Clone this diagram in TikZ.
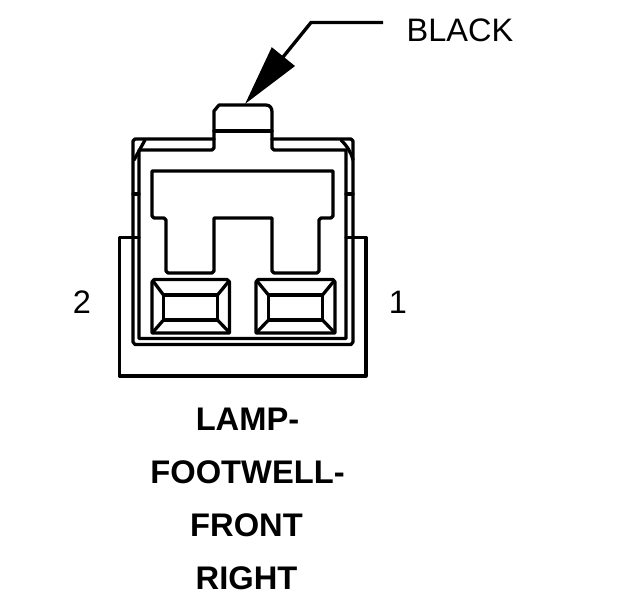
\documentclass[tikz,border=0pt]{standalone}
\usepackage{fontspec}
\setmainfont{Liberation Sans}
\usetikzlibrary{arrows.meta,positioning}
\tikzset{
  housing/.style={line width=1.85pt,line join=round,line cap=round},
  tag/.style={inner sep=0pt,font=\fontsize{18.5pt}{20pt}\selectfont},
  title/.style={tag,font=\fontsize{18.6pt}{20pt}\selectfont\bfseries},
}

\begin{document}
\begin{tikzpicture}[x=0.02cm,y=-0.02cm]
      \useasboundingbox (0, 0) rectangle (624, 600);

      % Outer shroud
      \draw[housing] (139, 237.5) -- (119.5, 237.5) -- (119.5, 376) -- (366, 376) -- (366, 237.5) -- (346, 237.5);

      % Housing > outer outline
      \draw[housing] (214, 139) -- (135, 139) -- (133, 141) -- (133, 342) -- (135, 344.5)
        -- (351, 344.5) -- (353, 342) -- (353, 141) -- (351, 139) -- (272, 139);

      % Housing > inner outline
      \draw[housing] (214, 139) -- (214, 148) -- (212, 150) -- (139, 150) -- (139, 338.5)
        -- (346, 338.5) -- (346, 150) -- (274, 150) -- (272, 148) -- (272, 139);

      % Tab on top
      \draw[housing] (214, 139) -- (214, 111) -- (219, 105) -- (266, 105)
        .. controls (270, 105) and (272, 108) .. (272, 112) -- (272, 139);
      \draw[housing] (214, 131) -- (272, 131);

      % Corner bevels
      \draw[housing] (145, 140) -- (134, 160);
      \draw[housing] (341, 140) .. controls (347, 146) and (351, 152) .. (353, 160);

      % Side ticks
      \draw[housing] (133, 194) -- (139, 194);
      \draw[housing] (346, 194) -- (353, 194);

      % Latch
      \draw[housing] (152, 171) -- (333, 171) -- (333, 216) -- (331, 218) -- (321, 218) -- (319, 220)
        -- (319, 271) -- (317, 273) -- (274, 273) -- (272, 271) -- (272, 218) -- (214, 218)
        -- (214, 271) -- (212, 273) -- (168, 273) -- (166, 271) -- (166, 220) -- (164, 218)
        -- (154, 218) -- (152, 216) -- cycle;

      % Left terminal
      \draw[housing] (154, 279.5) -- (227, 279.5) -- (229.5, 282) -- (229.5, 333) -- (152, 333) -- (152, 282) -- cycle;
      \draw[housing] (163.5, 295) rectangle (217.5, 320);
      \draw[housing] (153, 281) -- (163.5, 295);
      \draw[housing] (229, 281) -- (217.5, 295);
      \draw[housing] (153, 332) -- (163.5, 320);
      \draw[housing] (229, 332) -- (217.5, 320);

      % Right terminal
      \draw[housing] (258, 279.5) -- (333, 279.5) -- (335, 282) -- (335, 333) -- (256, 333) -- (256, 282) -- cycle;
      \draw[housing] (268.5, 295) rectangle (322.5, 320);
      \draw[housing] (257, 281) -- (268.5, 295);
      \draw[housing] (334, 281) -- (322.5, 295);
      \draw[housing] (257, 332) -- (268.5, 320);
      \draw[housing] (334, 332) -- (322.5, 320);

      % Colour leader
      \coordinate (leaderend) at (383, 22.5);
      \coordinate (leaderbend) at (311, 22.5);
      \coordinate (leadertip) at (245, 104);
      \draw[line width=1.9pt,-{Triangle[length=1.22cm,width=0.58cm]}] (leaderend) -- (leaderbend) -- (leadertip);

      \node[tag] (colour) at (460, 30) {BLACK};
      \node[tag] (pintwo) at (82, 302) {2};
      \node[tag] (pinone) at (398, 302) {1};

      \node[title] (lamp) at (247.5, 419) {LAMP-};
      \node[title] (footwell) at (247.5, 472) {FOOTWELL-};
      \node[title] (front) at (246.5, 525) {FRONT};
      \node[title] (right) at (246.5, 578) {RIGHT};
\end{tikzpicture}
\end{document}
